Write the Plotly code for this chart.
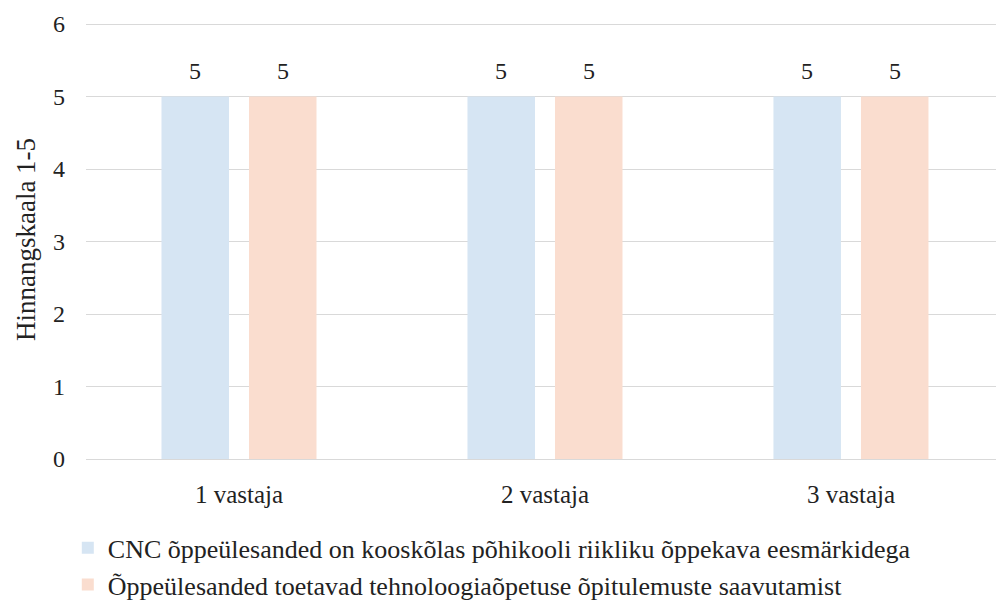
import plotly.graph_objects as go

# Respondents and their scores on the two statements
categories = ["1 vastaja", "2 vastaja", "3 vastaja"]
series_names = [
    "CNC õppeülesanded on kooskõlas põhikooli riikliku õppekava eesmärkidega",
    "Õppeülesanded toetavad tehnoloogiaõpetuse õpitulemuste saavutamist",
]
series_values = [
    [5, 5, 5],
    [5, 5, 5],
]
series_colors = ["#D6E5F3", "#FADDCF"]

y_ticks = [0, 1, 2, 3, 4, 5, 6]

FONT = "Liberation Serif"
TEXT = "#222222"
BARGAP = 0.428
BARGROUPGAP = 0.2286

fig = go.Figure()
for name, vals, color in zip(series_names, series_values, series_colors):
    fig.add_trace(go.Bar(
        x=categories,
        y=vals,
        name=name,
        marker=dict(color=color, line=dict(width=0)),
    ))

# value labels above each bar, centred on the bar's slot in the group
n_series = len(series_values)
slot = (1 - BARGAP) / n_series
for s, vals in enumerate(series_values):
    offset = -(1 - BARGAP) / 2 + slot * (s + 0.5)
    for i, v in enumerate(vals):
        fig.add_annotation(
            x=i + offset, y=v, xref="x", yref="y",
            text=str(v), showarrow=False,
            yanchor="bottom", yshift=11,
            font=dict(family=FONT, size=24, color=TEXT),
        )

fig.update_layout(
    width=996,
    height=607,
    margin=dict(l=86, r=0, t=20, b=148, autoexpand=False),
    paper_bgcolor="white",
    plot_bgcolor="white",
    barmode="group",
    bargap=BARGAP,
    bargroupgap=BARGROUPGAP,
    font=dict(family=FONT, size=24, color=TEXT),
    showlegend=True,
    legend=dict(
        orientation="v",
        x=-0.02,
        xanchor="left",
        y=-0.149,
        yanchor="top",
        font=dict(family=FONT, size=26, color=TEXT),
        itemwidth=30,
        tracegroupgap=0,
        bgcolor="rgba(0,0,0,0)",
    ),
    xaxis=dict(
        type="category",
        range=[-0.5, 2.474],
        showgrid=False,
        showline=False,
        zeroline=False,
        ticks="",
        ticklabelstandoff=18,
        tickfont=dict(family=FONT, size=25, color=TEXT),
    ),
    yaxis=dict(
        range=[0, 6 + 4 / 72.5],
        tickvals=y_ticks,
        showgrid=True,
        gridcolor="#D9D9D9",
        gridwidth=1.3,
        zeroline=True,
        zerolinecolor="#D9D9D9",
        zerolinewidth=1.3,
        showline=False,
        ticks="",
        ticklabelstandoff=20,
        tickfont=dict(family=FONT, size=24, color=TEXT),
        title=dict(text="Hinnangskaala 1-5", font=dict(family=FONT, size=27, color=TEXT), standoff=9),
    ),
)

fig.write_html("out.html")
